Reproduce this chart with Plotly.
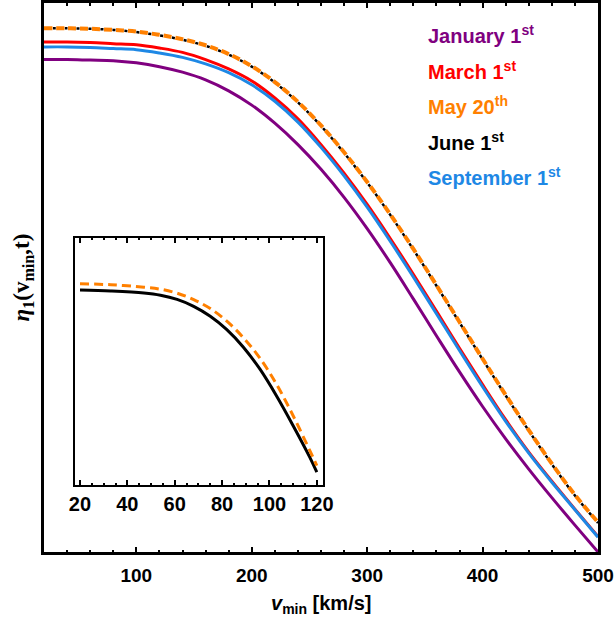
import plotly.graph_objects as go

# Main panel: eta_1(v_min, t) for several dates (arbitrary units)
v_min = [20, 40, 60, 80, 100, 120, 140, 160, 180, 200, 220, 240, 260, 280, 300,
         320, 340, 360, 380, 400, 420, 440, 460, 480, 500]

eta_jan = [0.897, 0.897, 0.896, 0.895, 0.891, 0.884, 0.874, 0.860, 0.840, 0.814, 0.781,
           0.742, 0.697, 0.646, 0.589, 0.527, 0.461, 0.394, 0.328, 0.265, 0.206, 0.151,
           0.099, 0.049, 0.000]
eta_mar = [0.929, 0.929, 0.928, 0.926, 0.924, 0.918, 0.910, 0.897, 0.880, 0.858, 0.827,
           0.789, 0.742, 0.690, 0.633, 0.571, 0.506, 0.439, 0.371, 0.305, 0.241, 0.182,
           0.129, 0.078, 0.028]
eta_may = [0.954, 0.954, 0.953, 0.951, 0.948, 0.942, 0.934, 0.923, 0.907, 0.885, 0.856,
           0.820, 0.777, 0.728, 0.674, 0.615, 0.552, 0.486, 0.419, 0.352, 0.286, 0.222,
           0.161, 0.104, 0.054]
eta_jun = [0.954, 0.954, 0.953, 0.951, 0.947, 0.941, 0.933, 0.922, 0.906, 0.884, 0.855,
           0.819, 0.776, 0.727, 0.673, 0.614, 0.551, 0.485, 0.418, 0.351, 0.285, 0.221,
           0.160, 0.103, 0.053]
eta_sep = [0.920, 0.920, 0.919, 0.917, 0.915, 0.909, 0.901, 0.889, 0.873, 0.851, 0.821,
           0.783, 0.737, 0.685, 0.628, 0.566, 0.501, 0.434, 0.367, 0.301, 0.238, 0.180,
           0.127, 0.077, 0.027]

# Inset: low-velocity region, May 20 vs June 1 (arbitrary units)
v_inset = [20, 33, 47, 54, 61, 68, 75, 82, 89, 96, 103, 110, 117, 120]
inset_may = [0.814, 0.810, 0.800, 0.792, 0.776, 0.750, 0.714, 0.663, 0.596, 0.513,
             0.408, 0.281, 0.141, 0.080]
inset_jun = [0.789, 0.785, 0.777, 0.768, 0.751, 0.723, 0.683, 0.629, 0.558, 0.469,
             0.361, 0.241, 0.114, 0.053]

x_ticks = [100, 200, 300, 400, 500]
inset_ticks = [20, 40, 60, 80, 100, 120]

PURPLE = "#800080"
RED = "#FF0000"
ORANGE = "#FF8000"
BLACK = "#000000"
BLUE = "#1E88E5"

dates = ["January 1<sup>st</sup>", "March 1<sup>st</sup>", "May 20<sup>th</sup>",
         "June 1<sup>st</sup>", "September 1<sup>st</sup>"]
date_colors = [PURPLE, RED, ORANGE, BLACK, BLUE]

fig = go.Figure()

def add_line(x, y, color, width, dash="solid", xa="x", ya="y"):
    fig.add_trace(go.Scatter(x=x, y=y, mode="lines", xaxis=xa, yaxis=ya,
                             line=dict(color=color, width=width, dash=dash, shape="spline"),
                             showlegend=False, hoverinfo="skip"))

add_line(v_min, eta_jan, PURPLE, 3)
add_line(v_min, eta_mar, RED, 3)
add_line(v_min, eta_sep, BLUE, 3)
add_line(v_min, eta_may, ORANGE, 4, dash="8px,4px")
add_line(v_min, eta_jun, BLACK, 2.5, dash="0px,8.5px,3px,0.5px")

add_line(v_inset, inset_jun, BLACK, 3, xa="x2", ya="y2")
add_line(v_inset, inset_may, ORANGE, 3, dash="9px,5px", xa="x2", ya="y2")

bold_font = dict(family="Liberation Sans", size=19, color="black", weight="bold")

fig.update_layout(
    width=616, height=623,
    margin=dict(l=44, r=18, t=0, b=71),
    paper_bgcolor="white", plot_bgcolor="white",
    xaxis=dict(range=[20, 500], tickvals=x_ticks, ticks="inside", ticklen=5, tickwidth=2,
               tickcolor="black", showline=True, linewidth=3, linecolor="black",
               mirror="ticks", showgrid=False, zeroline=False, tickfont=bold_font,
               ticklabelstandoff=4,
               minor=dict(dtick=20, tick0=20, ticks="inside", ticklen=2.5, tickwidth=2,
                          tickcolor="black", showgrid=False)),
    yaxis=dict(range=[0, 1], showticklabels=False, ticks="", showline=True, linewidth=3,
               linecolor="black", mirror=True, showgrid=False, zeroline=False),
    xaxis2=dict(domain=[0.056, 0.504], anchor="y2", range=[17.9, 122.7],
                tickvals=inset_ticks, ticks="inside", ticklen=5, tickwidth=1.5,
                tickcolor="black", showline=True, linewidth=2, linecolor="black",
                mirror="ticks", showgrid=False, zeroline=False,
                tickfont=dict(family="Liberation Sans", size=20, color="black", weight="bold"),
                minor=dict(dtick=5, tick0=20, ticks="inside", ticklen=2.5, tickwidth=1.5,
                           tickcolor="black", showgrid=False)),
    yaxis2=dict(domain=[0.1214, 0.5725], anchor="x2", range=[0, 1], showticklabels=False,
                ticks="", showline=True, linewidth=2, linecolor="black", mirror=True,
                showgrid=False, zeroline=False),
)

# Date labels
label_y = [0.9418, 0.8766, 0.8132, 0.7479, 0.6845]
for text, color, yy in zip(dates, date_colors, label_y):
    fig.add_annotation(text=text, xref="paper", yref="paper", x=0.6895, y=yy,
                       xanchor="left", yanchor="middle", showarrow=False,
                       font=dict(family="Liberation Sans", size=20, color=color, weight="bold"))

# Axis titles
fig.add_annotation(text="<i>v</i><sub>min</sub> [km/s]", xref="paper", yref="paper",
                   x=0.5, y=-0.096, xanchor="center", yanchor="middle", showarrow=False,
                   font=dict(family="Liberation Sans", size=20, color="black", weight="bold"))
fig.add_annotation(text="<i>η</i><sub>1</sub>(v<sub>min</sub>,t)", xref="paper", yref="paper",
                   x=-0.038, y=0.5, xanchor="center", yanchor="middle", textangle=-90,
                   showarrow=False,
                   font=dict(family="Liberation Serif", size=23, color="black", weight="bold"))

fig.write_html("out.html")
